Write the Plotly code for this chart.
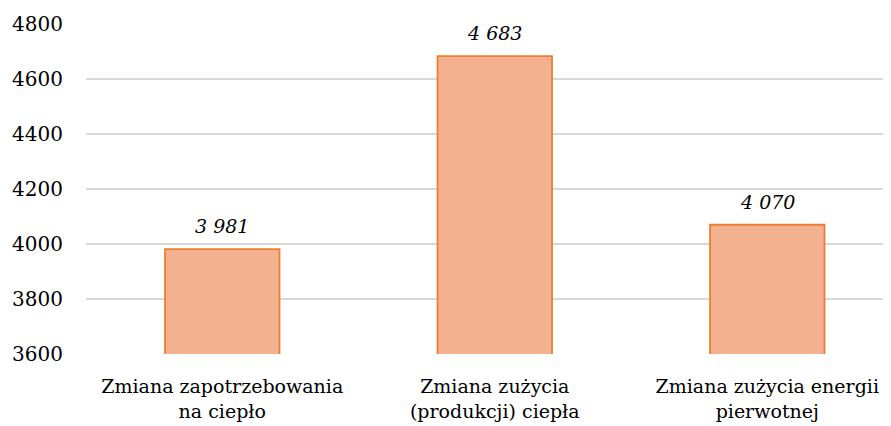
import plotly.graph_objects as go

categories = ["Zmiana zapotrzebowania<br>na ciepło", "Zmiana zużycia<br>(produkcji) ciepła", "Zmiana zużycia energii<br>pierwotnej"]
values = [3981, 4683, 4070]
y_ticks = [3600, 3800, 4000, 4200, 4400, 4600, 4800]

labels = [f"{v:,}".replace(",", "\u00a0") for v in values]

fig = go.Figure(go.Bar(
    x=categories, y=values,
    width=0.42,
    marker=dict(color="#F4B190", line=dict(color="#ED7D31", width=1.8)),
    cliponaxis=False,
))
for c, v, t in zip(categories, values, labels):
    fig.add_annotation(x=c, y=v, text=t, showarrow=False, yshift=23, yanchor="middle",
                       font=dict(family="DejaVu Serif", size=19, color="#000000", style="italic"))
fig.update_layout(
    width=883, height=418,
    margin=dict(l=78, r=0, t=16, b=72),
    paper_bgcolor="white", plot_bgcolor="white",
    showlegend=False,
    font=dict(family="DejaVu Serif", size=20, color="#000000"),
)
fig.update_xaxes(range=[-0.5, 2.454], showgrid=False, showline=False, ticks="",
                 tickfont=dict(size=19), automargin=False, ticklabelstandoff=19)
fig.update_yaxes(range=[3600, 4800], tickvals=y_ticks, showgrid=True, gridcolor="#D9D9D9",
                 gridwidth=1.5, zeroline=False, showline=False, ticks="", ticklabelstandoff=22,
                 tickfont=dict(size=20), automargin=False)
fig.write_html("out.html")
